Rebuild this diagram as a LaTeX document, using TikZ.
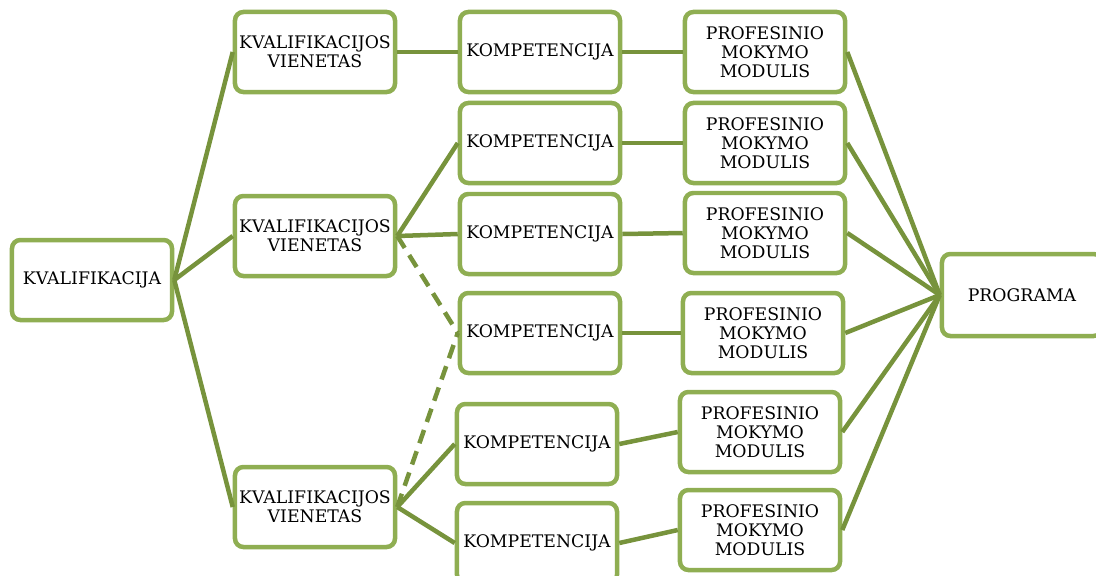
\documentclass[tikz,border=0pt]{standalone}
\usepackage{fontspec}
\setmainfont{DejaVu Serif}
\definecolor{boxgreen}{RGB}{143,174,82}
\definecolor{linegreen}{RGB}{119,147,60}
\tikzset{
  box/.style={draw=boxgreen, line width=3.2pt, rounded corners=6pt, fill=white,
    minimum width=4cm, minimum height=2cm, align=center,
    font=\fontsize{12.3}{13.5}\selectfont, inner sep=1pt},
  link/.style={draw=linegreen, line width=3.2pt},
  dlink/.style={link, dash pattern=on 10pt off 6pt}
}
\begin{document}
\begin{tikzpicture}[x=0.025cm, y=-0.025cm]
        \useasboundingbox (0,0) rectangle (1096,575);

        \node[box] (kval) at (92,280) {KVALIFIKACIJA};

        \node[box] (vien1) at (315,52) {KVALIFIKACIJOS\\VIENETAS};
        \node[box] (vien2) at (315,236) {KVALIFIKACIJOS\\VIENETAS};
        \node[box] (vien3) at (315,507) {KVALIFIKACIJOS\\VIENETAS};

        \node[box] (komp1) at (540,52) {KOMPETENCIJA};
        \node[box] (komp2) at (540,143) {KOMPETENCIJA};
        \node[box] (komp3) at (540,234) {KOMPETENCIJA};
        \node[box] (komp4) at (540,333) {KOMPETENCIJA};
        \node[box] (komp5) at (537,444) {KOMPETENCIJA};
        \node[box] (komp6) at (537,543) {KOMPETENCIJA};

        \node[box] (mod1) at (765,52) {PROFESINIO\\MOKYMO\\MODULIS};
        \node[box] (mod2) at (765,143) {PROFESINIO\\MOKYMO\\MODULIS};
        \node[box] (mod3) at (765,233) {PROFESINIO\\MOKYMO\\MODULIS};
        \node[box] (mod4) at (763,333) {PROFESINIO\\MOKYMO\\MODULIS};
        \node[box] (mod5) at (760,432) {PROFESINIO\\MOKYMO\\MODULIS};
        \node[box] (mod6) at (760,530) {PROFESINIO\\MOKYMO\\MODULIS};

        \node[box, minimum height=2.05cm] (prog) at (1022,295) {PROGRAMA};

        % kvalifikacija -> vienetai
        \draw[link] (kval.east) -- (vien1.west);
        \draw[link] (kval.east) -- (vien2.west);
        \draw[link] (kval.east) -- (vien3.west);

        % vienetai -> kompetencijos
        \draw[link] (vien1.east) -- (komp1.west);
        \draw[link] (vien2.east) -- (komp2.west);
        \draw[link] (vien2.east) -- (komp3.west);
        \draw[dlink] (vien2.east) -- (komp4.west);
        \draw[dlink] (vien3.east) -- (komp4.west);
        \draw[link] (vien3.east) -- (komp5.west);
        \draw[link] (vien3.east) -- (komp6.west);

        % kompetencijos -> moduliai -> programa
        \foreach \i in {1,...,6} {
            \draw[link] (komp\i.east) -- (mod\i.west);
            \draw[link] (mod\i.east) -- (prog.west);
        }
    \end{tikzpicture}
\end{document}
